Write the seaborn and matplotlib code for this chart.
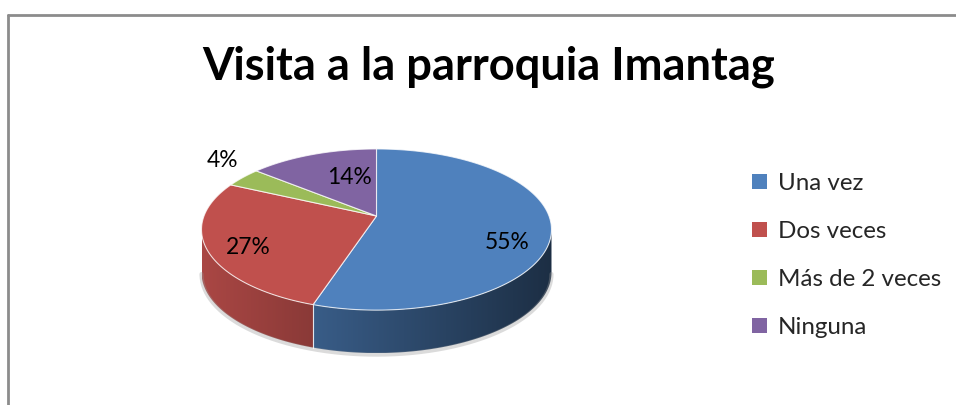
import numpy as np
import matplotlib
matplotlib.use("Agg")
import matplotlib.pyplot as plt
import seaborn as sns
from matplotlib.patches import Polygon, Patch
from matplotlib.lines import Line2D

# ---------------- data ----------------
categories = ["Una vez", "Dos veces", "Más de 2 veces", "Ninguna"]
percentages = [55, 27, 4, 14]
title_text = "Visita a la parroquia Imantag"

# ---------------- style ----------------
sns.set_theme(style="white")
plt.rcParams['font.family'] = ['Lato', 'DejaVu Sans']
palette = sns.color_palette(["#4F81BD", "#C0504D", "#9BBB59", "#8064A2"])

W, H = 956, 405
fig = plt.figure(figsize=(W / 100, H / 100), dpi=100)
ax = fig.add_axes([0, 0, 1, 1])
ax.set_xlim(0, W)
ax.set_ylim(H, 0)
ax.axis('off')

# chart border (top and left visible, rest clipped by image)
ax.add_line(Line2D([8.5, W + 5], [15, 15], color="#8c8c8c", lw=2))
ax.add_line(Line2D([8.5, 8.5], [15, H + 5], color="#8c8c8c", lw=2))


def fit_size(text, target_w, weight="normal", base=20.0):
    t = ax.text(0, 0, text, fontsize=base, weight=weight)
    fig.canvas.draw()
    w = t.get_window_extent().width
    t.remove()
    return base * target_w / w


# title
ts = fit_size(title_text, 572, "bold", 30)
ax.text(489, 80, title_text, fontsize=ts, weight="bold", ha="center",
        va="baseline", color="black")

# ---------------- 3D pie geometry ----------------
cx, cy = 376.5, 216.0
RX, RY = 172.5, 78.3
K = 0.168
DEPTH = 43


def proj(theta_deg, r=1.0):
    t = np.deg2rad(theta_deg)
    X = r * np.sin(t)
    Z = r * np.cos(t)
    w = 1 + K * Z
    return cx + RX * X / w, cy - RY * Z / w


fr = np.array(percentages, dtype=float) / np.sum(percentages)
ends = np.cumsum(fr) * 360.0
starts = np.concatenate([[0.0], ends[:-1]])

th_r = np.degrees(np.arccos(-K))
th_l = 360.0 - th_r


def shade_factor(x):
    return np.clip(0.88 - (x - 205) * 0.0015, 0.3, 1.0)


# soft shadow below the pie
ths = np.linspace(th_r, th_l, 200)
pts = np.array([proj(t) for t in ths])
ax.plot(pts[:, 0], pts[:, 1] + DEPTH + 1.5, color=(0.6, 0.6, 0.6, 0.35),
        lw=3, solid_capstyle="round")

# sides with horizontal gradient
for a, b, col in zip(starts, ends, palette):
    lo, hi = max(a, th_r), min(b, th_l)
    if hi <= lo:
        continue
    ths = np.linspace(lo, hi, 200)
    top = np.array([proj(t) for t in ths])
    bot = top[::-1] + np.array([0, DEPTH])
    verts = np.vstack([top, bot])
    poly = Polygon(verts, closed=True, facecolor="none", edgecolor="none")
    ax.add_patch(poly)
    xmin, xmax = verts[:, 0].min(), verts[:, 0].max()
    ymin, ymax = verts[:, 1].min(), verts[:, 1].max()
    xs = np.linspace(xmin, xmax, 256)
    img = np.array(col)[None, None, :] * shade_factor(xs)[None, :, None]
    img = np.repeat(img, 2, axis=0)
    im = ax.imshow(img, extent=[xmin, xmax, ymax, ymin], aspect="auto",
                   interpolation="bilinear", zorder=1)
    im.set_clip_path(poly)
    # light seam at the side boundaries
    for t in (a, b):
        if th_r < t < th_l:
            x, y = proj(t)
            ax.add_line(Line2D([x, x], [y, y + DEPTH], color=(1, 1, 1, 0.6),
                               lw=0.8, zorder=2))

# tops
for a, b, col in zip(starts, ends, palette):
    ths = np.linspace(a, b, max(int((b - a) * 2), 3))
    pts = [proj(t) for t in ths]
    ax.add_patch(Polygon([(cx, cy)] + pts, closed=True, facecolor=col,
                         edgecolor=(1, 1, 1, 0.75), lw=0.8, joinstyle="round",
                         zorder=3))

# ---------------- data labels ----------------
label_r = [0.75, 0.77, 1.17, 0.39]
label_dy = [17.5, 6.0, -10.6, -12.0]
ls = fit_size("55%", 45, "normal", 18)
for a, b, p, r, dy in zip(starts, ends, percentages, label_r, label_dy):
    x, y = proj(0.5 * (a + b), r)
    ax.text(x, y + dy, f"{p}%", fontsize=ls, ha="center", va="center",
            color="black", zorder=5)

# ---------------- legend ----------------
gs = fit_size("Más de 2 veces", 164, "normal", 15)
handles = [Patch(facecolor=c, edgecolor="none") for c in palette]
leg = ax.legend(handles, categories, loc="center left",
                bbox_to_anchor=(752 / W, 1 - 255.5 / H),
                bbox_transform=fig.transFigure, frameon=False, fontsize=gs,
                handlelength=0.62, handleheight=0.62, handletextpad=0.45,
                labelspacing=1.12, borderpad=0, borderaxespad=0)

ax.set_xlim(0, W)
ax.set_ylim(H, 0)
fig.savefig("out.png", dpi=100)
